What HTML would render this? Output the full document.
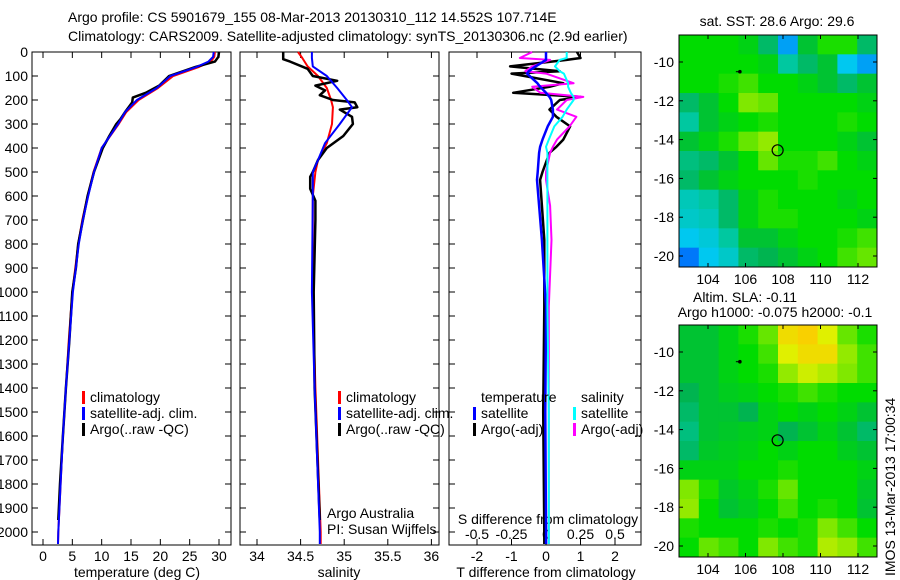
<!DOCTYPE html>
<html><head><meta charset="utf-8"><style>
body{margin:0;background:#fff}
svg{display:block;font-family:"Liberation Sans",sans-serif;font-size:14px}
</style></head><body>
<svg id="fig" width="900" height="580" viewBox="0 0 900 580" xmlns="http://www.w3.org/2000/svg">
<rect width="900" height="580" fill="#fff"/>
<text x="68" y="22">Argo profile: CS 5901679_155 08-Mar-2013 20130310_112 14.552S 107.714E</text>
<text x="68" y="41">Climatology: CARS2009. Satellite-adjusted climatology: synTS_20130306.nc (2.9d earlier)</text>
<g id="g"></g>
</svg>
<script>
// ---- data ----
const depthT = [0,20,40,62,100,150,200,250,300,400,500,600,700,800,900,1000,1200,1400,1600,1800,2000,2050];
const tempClim = [29.3,29.2,28.6,26.6,22.2,19.6,16.3,14.2,12.9,10.0,8.6,7.6,6.7,6.0,5.5,5.0,4.4,3.9,3.4,3.0,2.6,2.55];
const tempSat = [29.1,29.0,28.2,26.2,21.7,19.4,16.0,14.0,12.8,10.0,8.7,7.7,6.8,6.1,5.6,5.1,4.5,3.9,3.4,3.0,2.6,2.55];
const depthA = [0,20,40,62,100,140,170,190,210,250,280,300,350,400,500,600,700,800,900,1000,1200,1400,1600,1800,1950];
const tempArgo = [30.0,29.9,29.3,26.0,21.5,19.8,17.5,15.3,15.2,14.0,13.2,12.5,11.3,10.2,8.7,7.6,6.8,6.0,5.6,5.0,4.5,3.9,3.4,2.9,2.6];
const depthS = [0,25,60,100,150,200,230,300,380,450,500,600,1000,1400,2000,2050];
const salClim = [34.47,34.52,34.58,34.7,34.8,34.85,34.87,34.86,34.8,34.7,34.67,34.64,34.64,34.67,34.73,34.73];
const salSat = [34.63,34.63,34.64,34.8,34.92,35.03,35.09,34.95,34.78,34.7,34.64,34.64,34.63,34.66,34.72,34.72];
const depthSA = [0,30,40,70,100,120,140,160,180,200,210,230,240,270,300,350,400,450,500,520,570,620,700,1000,1400,1950];
const salArgo = [34.3,34.3,34.38,34.58,34.64,34.92,34.67,34.78,34.72,34.87,35.12,35.15,34.95,35.09,35.1,34.99,34.8,34.7,34.64,34.61,34.61,34.67,34.67,34.65,34.66,34.72];
const depthD = [0,25,33,60,80,90,130,145,170,187,200,240,270,310,365,395,420,500,533,640,783,1061,1500,2000,2050];
const dTsat = [0,0,0,-0.3,-0.5,-0.55,-0.25,-0.17,0.0,0.1,0.15,0.2,0.2,0.05,-0.1,-0.17,-0.2,-0.24,-0.26,-0.2,-0.12,0,-0.02,0,0];
const dTargo = [0.9,1.0,0.6,-1.04,0.4,-1.0,0.5,0.1,-0.95,1.0,0.4,0.1,0.3,0.7,0.5,0.3,0.1,-0.1,-0.17,-0.12,-0.05,-0.05,-0.08,-0.05,-0.05];
const dSsat = [0.15,0.15,0.1,0.065,0.1,0.13,0.16,0.16,0.18,0.2,0.2,0.15,0.12,0.06,0.02,0.0,0.01,0.01,0.01,0.01,0.01,0.01,0.02,0.02,0.02];
const dSargo = [-0.1,-0.19,0.03,-0.1,-0.15,0.0,0.2,-0.1,-0.04,0.27,0.15,0.08,0.22,0.17,0.08,0.05,0.03,0.0,0.0,0.03,0.04,0.02,0.02,0.02,0.02];
const depthTicks = [0,100,200,300,400,500,600,700,800,900,1000,1100,1200,1300,1400,1500,1600,1700,1800,1900,2000];
const tempTicks = [0,5,10,15,20,25,30];
const salTicks = [34,34.5,35,35.5,36];
const salTickLabels = ["34","34.5","35","35.5","36"];
const dTTicks = [-2,-1,0,1,2];
const dSTicks = [-0.5,-0.25,0,0.25,0.5];
const lonTicks = [104,106,108,110,112];
const latTicks = [-10,-12,-14,-16,-18,-20];
const sstGrid = [
[.6,.6,.6,.58,.5,.3,.55,.62,.62,.5],
[.6,.6,.6,.6,.58,.45,.5,.55,.35,.3],
[.6,.6,.62,.65,.6,.6,.58,.55,.5,.55],
[.5,.55,.6,.7,.68,.6,.6,.6,.6,.58],
[.45,.55,.58,.6,.62,.6,.6,.6,.62,.6],
[.55,.58,.62,.68,.72,.6,.6,.6,.58,.55],
[.48,.5,.55,.6,.68,.62,.62,.65,.6,.58],
[.5,.55,.58,.6,.6,.6,.62,.6,.6,.6],
[.42,.45,.5,.58,.62,.6,.6,.6,.58,.6],
[.4,.42,.5,.58,.62,.62,.6,.6,.6,.58],
[.35,.38,.45,.55,.55,.58,.6,.6,.62,.65],
[.25,.35,.4,.5,.52,.55,.58,.6,.65,.68]];
const slaGrid = [
[.55,.55,.58,.62,.68,.85,.88,.8,.68,.62],
[.55,.55,.58,.6,.65,.8,.85,.85,.72,.65],
[.55,.55,.58,.6,.62,.72,.78,.75,.7,.65],
[.52,.55,.57,.58,.6,.62,.65,.62,.6,.6],
[.5,.55,.55,.52,.58,.6,.58,.6,.58,.55],
[.48,.55,.56,.57,.58,.52,.55,.58,.55,.5],
[.5,.56,.57,.58,.6,.58,.6,.6,.57,.55],
[.58,.58,.58,.6,.6,.62,.6,.6,.6,.58],
[.7,.62,.56,.58,.62,.68,.6,.6,.6,.56],
[.72,.6,.55,.57,.6,.65,.6,.62,.6,.55],
[.62,.6,.6,.6,.62,.6,.62,.7,.65,.6],
[.6,.68,.65,.6,.7,.65,.62,.75,.72,.65]];
const argoPos = [107.714,-14.552];
const shipPos = [105.7,-10.5];

// ---- helpers ----
const NS="http://www.w3.org/2000/svg";
const G=document.getElementById('g');
function mk(tag,at,parent){const e=document.createElementNS(NS,tag);for(const k in at)e.setAttribute(k,at[k]);(parent||G).appendChild(e);return e;}
const yD = d => 52 + d*0.24;
const PTOP=52, PBOT=545;
const panels=[{x0:32,x1:231,f:v=>43+5.867*v},{x0:240,x1:439,f:v=>257+87.2*(v-34)},{x0:449,x1:641,f:v=>546+34.5*v}];
const fS = v=>546+138*v;

function line(xs,ds,fx,color,w,name){
  const p=mk('polyline',{points:xs.map((v,i)=>fx(v).toFixed(1)+','+yD(ds[i]).toFixed(1)).join(' '),fill:'none',stroke:color,'stroke-width':w,'stroke-linejoin':'round'});
  
  
}
function txt(x,y,s,anchor,name){const t=mk('text',{x:x,y:y,'text-anchor':anchor||'start'});t.textContent=s;
  
  return t;}

panels.forEach((P,pi)=>{
  const r=mk('rect',{x:P.x0,y:PTOP,width:P.x1-P.x0,height:PBOT-PTOP,fill:'none',stroke:'#000','stroke-width':1});
  
  
  depthTicks.forEach(d=>{
    mk('line',{x1:P.x0,x2:P.x0+6,y1:yD(d),y2:yD(d),stroke:'#000'});
    mk('line',{x1:P.x1,x2:P.x1-6,y1:yD(d),y2:yD(d),stroke:'#000'});
  });
});
depthTicks.forEach(d=>txt(28,yD(d)+5,String(d),'end','depth-tick-label'));
tempTicks.forEach(v=>{const x=panels[0].f(v);mk('line',{x1:x,x2:x,y1:PBOT,y2:PBOT-6,stroke:'#000'});mk('line',{x1:x,x2:x,y1:PTOP,y2:PTOP+6,stroke:'#000'});txt(x,561,String(v),'middle','temp-tick-label');});
salTicks.forEach((v,i)=>{const x=panels[1].f(v);mk('line',{x1:x,x2:x,y1:PBOT,y2:PBOT-6,stroke:'#000'});mk('line',{x1:x,x2:x,y1:PTOP,y2:PTOP+6,stroke:'#000'});txt(x,561,salTickLabels[i],'middle','salinity-tick-label');});
dTTicks.forEach(v=>{const x=panels[2].f(v);mk('line',{x1:x,x2:x,y1:PBOT,y2:PBOT-6,stroke:'#000'});mk('line',{x1:x,x2:x,y1:PTOP,y2:PTOP+6,stroke:'#000'});txt(x,561,String(v),'middle','tdiff-tick-label');});
dSTicks.forEach(v=>txt(fS(v),539,String(v),'middle','sdiff-tick-label'));
txt(137,577,'temperature (deg C)','middle','x-axis-title-temperature');
txt(339,577,'salinity','middle','x-axis-title-salinity');
txt(546,577,'T difference from climatology','middle','x-axis-title-tdiff');
txt(548,524,'S difference from climatology','middle','s-diff-axis-title');
txt(327,518,'Argo Australia','start','credit-argo-australia');
txt(327,534,'PI: Susan Wijffels','start','credit-pi');

// profiles
line(tempClim,depthT,panels[0].f,'#ff0000',2,'temp-climatology-line');
line(tempArgo,depthA,panels[0].f,'#000',2.5,'temp-argo-line');
line(tempSat,depthT,panels[0].f,'#0000ff',2,'temp-satellite-line');
line(salClim,depthS,panels[1].f,'#ff0000',2,'salinity-climatology-line');
line(salArgo,depthSA,panels[1].f,'#000',2.5,'salinity-argo-line');
line(salSat,depthS,panels[1].f,'#0000ff',2,'salinity-satellite-line');
line(dTargo,depthD,panels[2].f,'#000',2.5,'tdiff-argo-line');
line(dSargo,depthD,fS,'#ff00ff',2,'sdiff-argo-line');
line(dTsat,depthD,panels[2].f,'#0000ff',2.5,'tdiff-satellite-line');
line(dSsat,depthD,fS,'#00ffff',2,'sdiff-satellite-line');

// legends
function leg(x,y,c,s,name){mk('rect',{x:x,y:y-11,width:3,height:13,fill:c});txt(x+8,y,s,'start',name);}
[[0,82],[1,338]].forEach(([i,x])=>{leg(x,402,'#ff0000','climatology','legend-climatology');leg(x,418,'#0000ff','satellite-adj. clim.','legend-satellite');leg(x,434,'#000','Argo(..raw -QC)','legend-argo');});
txt(481,402,'temperature','start','legend-temperature-heading');
txt(581,402,'salinity','start','legend-salinity-heading');
leg(473,418,'#0000ff','satellite','legend-t-satellite');leg(473,434,'#000','Argo(-adj)','legend-t-argo');
leg(573,418,'#00ffff','satellite','legend-s-satellite');leg(573,434,'#ff00ff','Argo(-adj)','legend-s-argo');

// maps
const stops=[[0,[0,0,160]],[0.2,[0,80,255]],[0.35,[0,200,240]],[0.45,[0,200,160]],[0.52,[0,180,80]],[0.6,[0,220,0]],[0.7,[128,232,0]],[0.8,[224,240,0]],[0.9,[255,200,0]],[1,[255,96,0]]];
function cmap(v){for(let i=1;i<stops.length;i++){if(v<=stops[i][0]){const a=stops[i-1],b=stops[i],t=(v-a[0])/(b[0]-a[0]);return 'rgb('+a[1].map((c,k)=>Math.round(c+(b[1][k]-c)*t)).join(',')+')';}}return 'rgb(255,96,0)';}
function map(top,grid,name){
  const x0=679,x1=877,y0=top,y1=top+232;
  const lx=lon=>708+(lon-104)*18.75, ly=lat=>y0+27+(-10-lat)*19.4;
  const rows=grid.length,cols=grid[0].length,cw=(x1-x0)/cols,ch=(y1-y0)/rows;
  const g=mk('g',{});
  grid.forEach((row,r)=>row.forEach((v,c)=>{mk('rect',{x:x0+c*cw,y:y0+r*ch,width:cw+0.5,height:ch+0.5,fill:cmap(v)},g);}));
  mk('rect',{x:x0,y:y0,width:x1-x0,height:y1-y0,fill:'none',stroke:'#000'},g);
  lonTicks.forEach(l=>{const x=lx(l);mk('line',{x1:x,x2:x,y1:y0,y2:y0+4,stroke:'#000'},g);mk('line',{x1:x,x2:x,y1:y1,y2:y1-4,stroke:'#000'},g);txt(x,y1+17,String(l),'middle','lon-tick-label');});
  latTicks.forEach(l=>{const y=ly(l);mk('line',{x1:x0,x2:x0+4,y1:y,y2:y,stroke:'#000'},g);mk('line',{x1:x1,x2:x1-4,y1:y,y2:y,stroke:'#000'},g);txt(x0-5,y+5,String(l),'end','lat-tick-label');});
  const c=mk('circle',{cx:lx(argoPos[0]),cy:ly(argoPos[1]),r:5.5,fill:'none',stroke:'#000','stroke-width':1.2},g);
  
  mk('circle',{cx:lx(shipPos[0]),cy:ly(shipPos[1]),r:1.8,fill:'#000'},g);
  mk('line',{x1:lx(shipPos[0])-4,x2:lx(shipPos[0]),y1:ly(shipPos[1]),y2:ly(shipPos[1]),stroke:'#000'},g);
}
map(35,sstGrid,'sst-map');
map(325,slaGrid,'sla-map');
txt(777,26,'sat. SST: 28.6 Argo: 29.6','middle','sst-map-title');
txt(745,302,'Altim. SLA: -0.11','middle','sla-map-title');
txt(775,317,'Argo h1000: -0.075 h2000: -0.1','middle','sla-map-subtitle');
const ts=txt(0,0,'IMOS 13-Mar-2013 17:00:34','start','timestamp-label');
ts.setAttribute('transform','translate(895,576) rotate(-90)');
</script>
</body></html>
